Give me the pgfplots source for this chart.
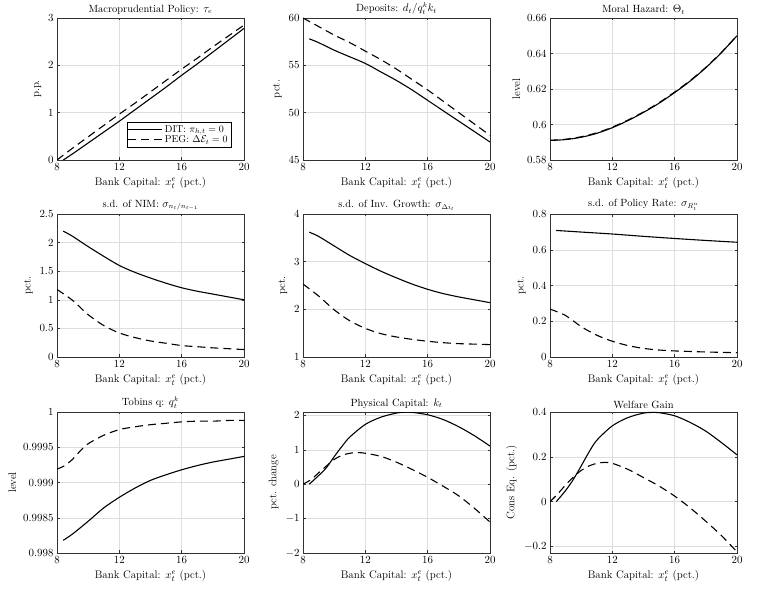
\documentclass[border=0pt]{standalone}
\usepackage{pgfplots}
\pgfplotsset{compat=1.18}
\definecolor{gridc}{RGB}{222,222,222}
\definecolor{axc}{RGB}{50,50,50}
\pgfplotsset{
 myax/.style={scale only axis, width=187bp, height=142bp, anchor=south west,
   xmin=8,xmax=20, xtick={8,12,16,20}, grid=major,
   major grid style={color=gridc, line width=0.5pt},
   axis line style={color=axc, line width=0.6pt},
   tick style={color=axc, line width=0.5pt}, major tick length=2.5bp,
   font=\fontsize{11}{13}\selectfont,
   tick label style={font=\fontsize{10.5}{12}\selectfont},
   title style={font=\fontsize{10.5}{12}\selectfont, yshift=-6pt},
   xlabel={Bank Capital: $x_t^e$ (pct.)},
   scaled y ticks=false,
   yticklabel style={/pgf/number format/precision=4},
   every axis plot/.append style={line width=1.1pt, black, smooth, tension=0.5},
 },
 sol/.style={solid},
 dsh/.style={dash pattern=on 8bp off 5bp},
}
\begin{document}
\begin{tikzpicture}
\useasboundingbox (0,0) rectangle (762bp,590bp);
% Row 1
\begin{axis}[myax, at={(57bp,430bp)}, height=142bp, ymin=0, ymax=3, ytick={0,1,2,3},
  title={Macroprudential Policy: $\tau_e$}, ylabel={p.p.},
  legend style={at={(0.93,0.09)}, anchor=south east, draw=black, fill=white,
    font=\fontsize{10}{12}\selectfont, inner sep=1pt, row sep=-2pt, cells={anchor=west}},
  legend image code/.code={\draw[#1] (0cm,0cm) -- (1.2cm,0cm);}]
\addplot[sol] coordinates {(8.4,0) (9,0.13) (10,0.36) (11,0.59) (12,0.82) (13,1.06) (14,1.3) (15,1.54) (16,1.79) (17,2.03) (18,2.28) (19,2.53) (20,2.78)};
\addlegendentry{DIT: $\pi_{h,t}=0$}
\addplot[dsh] coordinates {(8,0) (9,0.25) (10,0.49) (11,0.73) (12,0.97) (13,1.2) (14,1.44) (15,1.68) (16,1.92) (17,2.15) (18,2.39) (19,2.62) (20,2.85)};
\addlegendentry{PEG: $\Delta\mathcal{E}_t=0$}
\end{axis}
\begin{axis}[myax, at={(303bp,430bp)}, height=142bp, ymin=45, ymax=60, ytick={45,50,55,60},
  title={Deposits: $d_t/q_t^k k_t$}, ylabel={pct.}]
\addplot[sol] coordinates {(8.4,57.8)(9,57.4)(10,56.6)(11,55.9)(12,55.2)(13,54.3)(14,53.4)(15,52.4)(16,51.3)(17,50.2)(18,49.1)(19,48.0)(20,46.9)};
\addplot[dsh] coordinates {(8,60)(9,59.1)(10,58.2)(11,57.4)(12,56.5)(13,55.6)(14,54.6)(15,53.5)(16,52.4)(17,51.2)(18,50.0)(19,48.8)(20,47.6)};
\end{axis}
\begin{axis}[myax, at={(550bp,430bp)}, height=142bp, ymin=0.58, ymax=0.66, ytick={0.58,0.6,0.62,0.64,0.66},
  title={Moral Hazard: $\Theta_t$}, ylabel={level}]
\addplot[sol] coordinates {(8,0.591)(9,0.5915)(10,0.5928)(11,0.5950)(12,0.5982)(13,0.6022)(14,0.6068)(15,0.6120)(16,0.6180)(17,0.6245)(18,0.6320)(19,0.6405)(20,0.6500)};
\addplot[dsh] coordinates {(8,0.5911)(9,0.5917)(10,0.5931)(11,0.5953)(12,0.5985)(13,0.6025)(14,0.6071)(15,0.6123)(16,0.6183)(17,0.6248)(18,0.6322)(19,0.6406)(20,0.6501)};
\end{axis}
% Row 2
\begin{axis}[myax, at={(57bp,233bp)}, height=143bp, ymin=0, ymax=2.5, ytick={0,0.5,1,1.5,2,2.5},
  title={s.d. of NIM: $\sigma_{n_t/n_{t-1}}$}, ylabel={pct.}]
\addplot[sol] coordinates {(8.4,2.2)(9,2.11)(10,1.93)(11,1.76)(12,1.6)(13,1.48)(14,1.38)(15,1.29)(16,1.21)(17,1.15)(18,1.1)(19,1.05)(20,1.0)};
\addplot[dsh] coordinates {(8,1.18)(9,0.99)(10,0.74)(11,0.55)(12,0.42)(13,0.34)(14,0.28)(15,0.24)(16,0.2)(17,0.18)(18,0.16)(19,0.145)(20,0.13)};
\end{axis}
\begin{axis}[myax, at={(303bp,233bp)}, height=143bp, ymin=1, ymax=4, ytick={1,2,3,4},
  title={s.d. of Inv. Growth: $\sigma_{\Delta i_t}$}, ylabel={pct.}]
\addplot[sol] coordinates {(8.4,3.62)(9,3.53)(10,3.33)(11,3.13)(12,2.96)(13,2.8)(14,2.66)(15,2.53)(16,2.42)(17,2.33)(18,2.26)(19,2.2)(20,2.14)};
\addplot[dsh] coordinates {(8,2.53)(9,2.28)(10,1.99)(11,1.76)(12,1.6)(13,1.49)(14,1.42)(15,1.37)(16,1.33)(17,1.3)(18,1.28)(19,1.27)(20,1.26)};
\end{axis}
\begin{axis}[myax, at={(550bp,233bp)}, height=143bp, ymin=0, ymax=0.8, ytick={0,0.2,0.4,0.6,0.8},
  title={s.d. of Policy Rate: $\sigma_{R_t^n}$}, ylabel={pct.}]
\addplot[sol] coordinates {(8.4,0.708)(10,0.699)(12,0.688)(14,0.675)(16,0.663)(18,0.652)(20,0.642)};
\addplot[dsh] coordinates {(8,0.268)(9,0.232)(10,0.17)(11,0.122)(12,0.088)(13,0.064)(14,0.048)(15,0.039)(16,0.034)(17,0.031)(18,0.028)(19,0.026)(20,0.024)};
\end{axis}
% Row 3
\begin{axis}[myax, at={(57bp,37bp)}, height=141bp, ymin=0.998, ymax=1, ytick={0.998,0.9985,0.999,0.9995,1},
  title={Tobins q: $q_t^k$}, ylabel={level}]
\addplot[sol] coordinates {(8.4,0.99818)(9,0.99827)(10,0.99845)(11,0.99864)(12,0.99879)(13,0.99892)(14,0.99903)(15,0.99911)(16,0.99918)(17,0.99924)(18,0.99929)(19,0.99933)(20,0.99937)};
\addplot[dsh] coordinates {(8,0.99919)(8.5,0.99924)(9,0.99933)(9.5,0.99945)(10,0.99955)(11,0.99967)(12,0.99975)(13,0.99979)(14,0.99982)(15,0.99984)(16,0.99986)(17,0.99987)(18,0.99987)(19,0.99988)(20,0.99988)};
\end{axis}
\begin{axis}[myax, at={(303bp,37bp)}, height=141bp, ymin=-2, ymax=2.1, ytick={-2,-1,0,1,2},
  title={Physical Capital: $k_t$}, ylabel={pct. change}]
\addplot[sol] coordinates {(8.4,0)(9,0.25)(9.5,0.48)(10,0.8)(10.5,1.1)(11,1.37)(12,1.74)(13,1.95)(14,2.07)(14.5,2.095)(15,2.09)(16,2.02)(17,1.88)(18,1.67)(19,1.41)(20,1.11)};
\addplot[dsh] coordinates {(8,0)(8.5,0.13)(9,0.33)(9.5,0.53)(10,0.72)(10.5,0.84)(11,0.9)(11.5,0.92)(12,0.9)(13,0.81)(14,0.64)(15,0.43)(16,0.2)(17,-0.06)(18,-0.34)(19,-0.7)(20,-1.1)};
\end{axis}
\begin{axis}[myax, at={(550bp,37bp)}, height=141bp, ymin=-0.23, ymax=0.402, ytick={-0.2,0,0.2,0.4},
  title={Welfare Gain}, ylabel={Cons Eq. (pct.)}]
\addplot[sol] coordinates {(8.4,0)(9,0.05)(9.5,0.1)(10,0.16)(10.5,0.222)(11,0.275)(12,0.34)(13,0.377)(14,0.397)(14.5,0.4)(15,0.399)(16,0.385)(17,0.355)(18,0.316)(19,0.265)(20,0.21)};
\addplot[dsh] coordinates {(8,0)(8.5,0.035)(9,0.075)(9.5,0.11)(10,0.14)(10.5,0.16)(11,0.172)(11.5,0.176)(12,0.172)(13,0.145)(14,0.108)(15,0.07)(16,0.025)(17,-0.028)(18,-0.088)(19,-0.152)(20,-0.225)};
\end{axis}
\end{tikzpicture}
\end{document}
